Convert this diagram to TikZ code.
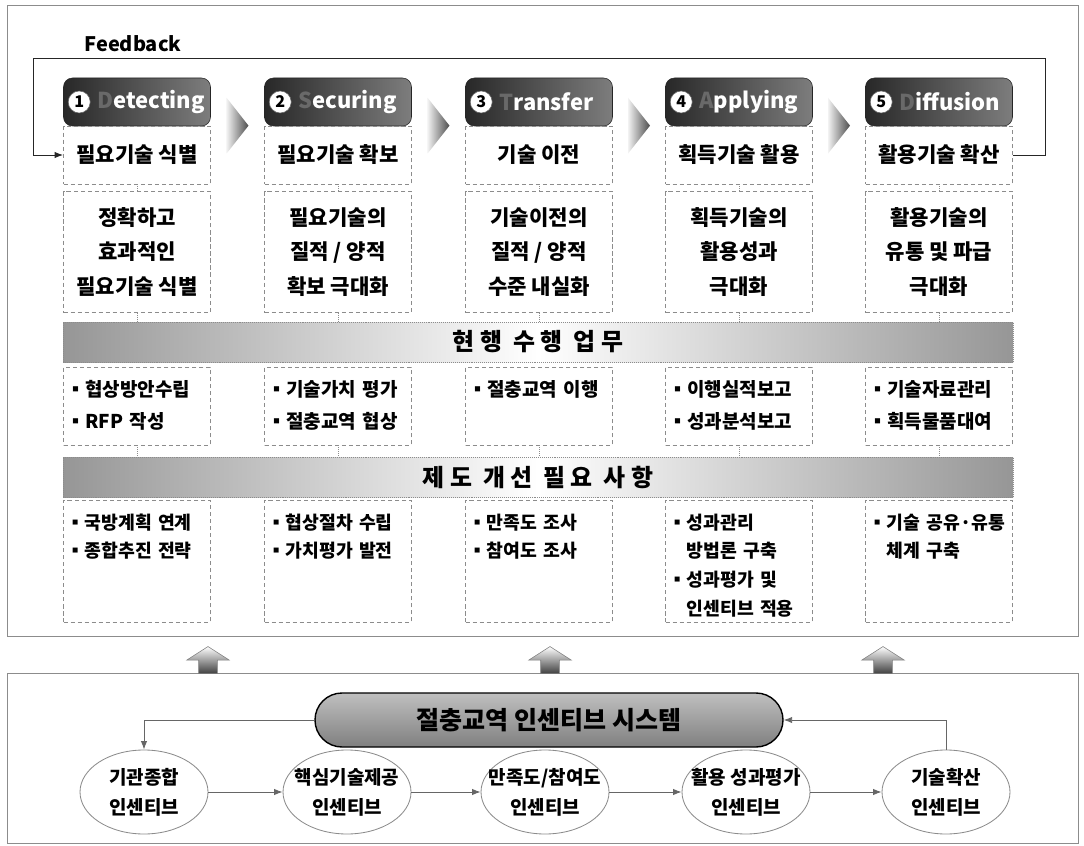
\documentclass[tikz,border=0pt]{standalone}
\usepackage{fontspec}
\setmainfont{Noto Sans CJK KR}
\usepackage{tikz}
\usepackage{xcolor}
\usetikzlibrary{shapes.geometric, shapes.arrows, arrows.meta, positioning, calc}
\newlength{\pxu}
\setlength{\pxu}{0.025cm}
\definecolor{hdrdark}{RGB}{40, 40, 40}
\definecolor{hdrlight}{RGB}{125, 125, 125}
\definecolor{bandgray}{RGB}{150, 150, 150}
\definecolor{boxline}{RGB}{140, 140, 140}
\definecolor{firstchar}{RGB}{105, 105, 105}

\begin{document}
\begin{tikzpicture}[x=1\pxu, y=-1\pxu, >={Latex[length=6pt, width=4.5pt]},
    frame/.style={draw=black!45, line width=0.6pt},
    header/.style={rectangle, rounded corners=9\pxu, draw=black!85, left color=hdrdark, right color=hdrlight,
                   minimum width=147\pxu, minimum height=48\pxu},
    hdword/.style={anchor=west, inner sep=0pt, text=white, font=\fontsize{15.6pt}{18pt}\selectfont\bfseries},
    numdot/.style={circle, fill=white, draw=black!60, inner sep=0pt, minimum size=22\pxu,
                   font=\fontsize{11.5pt}{12pt}\selectfont\bfseries},
    titlebox/.style={rectangle, draw=boxline, densely dashed, line width=0.5pt, minimum width=147\pxu,
                     minimum height=58\pxu, font=\fontsize{15pt}{18pt}\selectfont\bfseries},
    descbox/.style={titlebox, minimum height=121\pxu, align=center, font=\fontsize{15pt}{24.5pt}\selectfont\bfseries},
    band/.style={rectangle, draw=boxline, densely dotted, left color=bandgray, right color=bandgray, middle color=white,
                 minimum width=950\pxu, minimum height=40\pxu, font=\fontsize{17pt}{20pt}\selectfont\bfseries},
    taskbox/.style={rectangle, draw=boxline, densely dashed, line width=0.5pt, text width=141\pxu, align=left,
                    inner xsep=3\pxu, inner ysep=4\pxu, text height=25\pxu, text depth=45\pxu,
                    font=\fontsize{13.5pt}{22.8pt}\selectfont\bfseries},
    needbox/.style={taskbox, text depth=89\pxu, font=\fontsize{13pt}{20.6pt}\selectfont\bfseries},
    tick/.style={draw=boxline, densely dotted, line width=0.4pt},
    chevron/.style={left color=black!5, right color=black!70},
    fbline/.style={draw=black!85, line width=0.7pt},
    uparrow/.style={single arrow, shape border rotate=90, draw=black!50, top color=white, bottom color=black!75,
                    minimum height=27\pxu, minimum width=42\pxu, single arrow head extend=12\pxu,
                    single arrow tip angle=115, inner sep=9\pxu},
    sysbox/.style={rectangle, rounded corners=27\pxu, draw=black, line width=1pt, top color=black!25,
                   bottom color=black!50, minimum width=468\pxu, minimum height=54\pxu,
                   font=\fontsize{17.8pt}{20pt}\selectfont\bfseries},
    incent/.style={ellipse, draw=black!45, line width=0.6pt, fill=white, minimum width=128\pxu,
                   minimum height=84\pxu, inner xsep=-16\pxu, inner ysep=0pt, align=center,
                   font=\fontsize{13.5pt}{21.3pt}\selectfont\bfseries},
    flow/.style={draw=black!60, line width=0.6pt}]

    \useasboundingbox (0,0) rectangle (1084,846);

    % Frames
    \draw[frame] (7,5) rectangle (1078,636);
    \draw[frame] (7,673) rectangle (1078,843);

    % Step 1
    \node[header] (hd1) at (137,102) {};
    \node[numdot] (num1) at ($(hd1.west)+(16,0)$) {1};
    \node[hdword] (hw1) at ($(hd1.west)+(34,0)$) {\textcolor{firstchar}{D}etecting};
    \node[titlebox] (tt1) at (137,155) {필요기술 식별};
    \node[descbox] (dd1) at (137,252) {정확하고\\효과적인\\필요기술 식별};
    \node[taskbox] (ct1) at (137,406) {▪협상방안수립\\▪RFP 작성};
    \node[needbox] (im1) at (137,561) {▪국방계획 연계\\▪종합추진 전략};

    % Step 2
    \node[header] (hd2) at (338,102) {};
    \node[numdot] (num2) at ($(hd2.west)+(16,0)$) {2};
    \node[hdword] (hw2) at ($(hd2.west)+(34,0)$) {\textcolor{firstchar}{S}ecuring};
    \node[titlebox] (tt2) at (338,155) {필요기술 확보};
    \node[descbox] (dd2) at (338,252) {필요기술의\\질적 / 양적\\확보 극대화};
    \node[taskbox] (ct2) at (338,406) {▪기술가치 평가\\▪절충교역 협상};
    \node[needbox] (im2) at (338,561) {▪협상절차 수립\\▪가치평가 발전};

    % Step 3
    \node[header] (hd3) at (539,102) {};
    \node[numdot] (num3) at ($(hd3.west)+(16,0)$) {3};
    \node[hdword] (hw3) at ($(hd3.west)+(34,0)$) {\textcolor{firstchar}{T}ransfer};
    \node[titlebox] (tt3) at (539,155) {기술 이전};
    \node[descbox] (dd3) at (539,252) {기술이전의\\질적 / 양적\\수준 내실화};
    \node[taskbox] (ct3) at (539,406) {▪절충교역 이행};
    \node[needbox] (im3) at (539,561) {▪만족도 조사\\▪참여도 조사};

    % Step 4
    \node[header] (hd4) at (739,102) {};
    \node[numdot] (num4) at ($(hd4.west)+(16,0)$) {4};
    \node[hdword] (hw4) at ($(hd4.west)+(34,0)$) {\textcolor{firstchar}{A}pplying};
    \node[titlebox] (tt4) at (739,155) {획득기술 활용};
    \node[descbox] (dd4) at (739,252) {획득기술의\\활용성과\\극대화};
    \node[taskbox] (ct4) at (739,406) {▪이행실적보고\\▪성과분석보고};
    \node[needbox] (im4) at (739,561) {▪성과관리\\\phantom{▪}방법론 구축\\▪성과평가 및\\\phantom{▪}인센티브 적용};

    % Step 5
    \node[header] (hd5) at (939,102) {};
    \node[numdot] (num5) at ($(hd5.west)+(16,0)$) {5};
    \node[hdword] (hw5) at ($(hd5.west)+(34,0)$) {\textcolor{firstchar}{D}iffusion};
    \node[titlebox] (tt5) at (939,155) {활용기술 확산};
    \node[descbox] (dd5) at (939,252) {활용기술의\\유통 및 파급\\극대화};
    \node[taskbox] (ct5) at (939,406) {▪기술자료관리\\▪획득물품대여};
    \node[needbox] (im5) at (939,561) {▪기술~공유·유통\\\phantom{▪}체계 구축};

    % Bands
    \node[band] (cur) at (538,342) {현 행\ \ 수 행\ \ 업 무};
    \node[band] (need) at (538,477) {제 도\ \ 개 선\ \ 필 요\ \ 사 항};

    % Ticks between boxes
    \draw[tick] (tt1) -- (dd1) (tt2) -- (dd2) (tt3) -- (dd3) (tt4) -- (dd4) (tt5) -- (dd5);
    \draw[tick] (dd1.south) -- (dd1.south |- cur.north) (dd2.south) -- (dd2.south |- cur.north)
                (dd3.south) -- (dd3.south |- cur.north) (dd4.south) -- (dd4.south |- cur.north)
                (dd5.south) -- (dd5.south |- cur.north);
    \draw[tick] (ct1.south) -- (ct1.south |- need.north) (ct2.south) -- (ct2.south |- need.north)
                (ct3.south) -- (ct3.south |- need.north) (ct4.south) -- (ct4.south |- need.north)
                (ct5.south) -- (ct5.south |- need.north);

    % Chevrons between steps
    \shade[chevron] ($(tt1.north east)!.5!(tt2.north west)$) ++(-11,-28) -- ++(22,28) -- ++(-22,28) -- cycle;
    \shade[chevron] ($(tt2.north east)!.5!(tt3.north west)$) ++(-11,-28) -- ++(22,28) -- ++(-22,28) -- cycle;
    \shade[chevron] ($(tt3.north east)!.5!(tt4.north west)$) ++(-11,-28) -- ++(22,28) -- ++(-22,28) -- cycle;
    \shade[chevron] ($(tt4.north east)!.5!(tt5.north west)$) ++(-11,-28) -- ++(22,28) -- ++(-22,28) -- cycle;

    % Feedback
    \node[font=\fontsize{14.2pt}{16pt}\selectfont\bfseries] (fb) at (133,44) {Feedback};
    \coordinate (fbR) at (1045,58);
    \coordinate (fbL) at (33,58);
    \draw[fbline, ->] (tt5.east) -| (fbR) -- (fbL) |- (tt1.west);

    % Up arrows
    \node[uparrow] (up1) at (208,663) {};
    \node[uparrow] (up2) at (550,663) {};
    \node[uparrow] (up3) at (883,663) {};

    % Incentive system
    \node[sysbox] (sys) at (549,720) {절충교역 인센티브 시스템};
    \node[incent] (e1) at (144,792) {기관종합\\인센티브};
    \node[incent] (e2) at (347,792) {핵심기술제공\\인센티브};
    \node[incent] (e3) at (545,792) {만족도/참여도\\인센티브};
    \node[incent] (e4) at (746,792) {활용 성과평가\\인센티브};
    \node[incent] (e5) at (946,792) {기술확산\\인센티브};

    % Arrows
    \draw[flow, ->] (e1) -- (e2);
    \draw[flow, ->] (e2) -- (e3);
    \draw[flow, ->] (e3) -- (e4);
    \draw[flow, ->] (e4) -- (e5);
    \draw[flow, ->] (sys.west) -| (e1.north);
    \draw[flow, ->] (e5.north) |- (sys.east);
\end{tikzpicture}
\end{document}
